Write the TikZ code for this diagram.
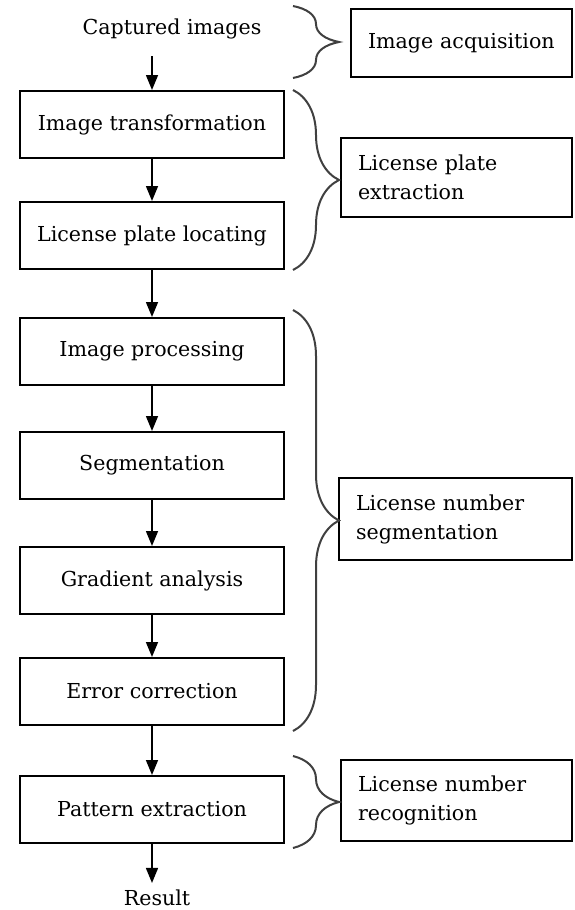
\documentclass[tikz,border=0pt]{standalone}
\usepackage{fontspec}
\setmainfont{DejaVu Serif}
\usetikzlibrary{arrows.meta,positioning,decorations.pathreplacing}

\begin{document}
\begin{tikzpicture}[
  x=0.5pt, y=-0.5pt,
  font=\fontsize{10.3pt}{14.5pt}\selectfont,
  box/.style={draw, line width=1pt, minimum width=132pt, minimum height=33.5pt, align=center, inner sep=2pt},
  side/.style={draw, line width=1pt, align=left, inner xsep=8.5pt, anchor=east},
  arr/.style={-{Triangle[width=6pt,length=7.5pt]}, line width=0.75pt},
  brc/.style={decorate, decoration={brace, amplitude=23pt}, line width=1pt, black!75}
]
\useasboundingbox (0,0) rectangle (574,910);
% flow column
\node (cap) at (172,29) {Captured images};
\node[box] (trans) at (152,124.5) {Image transformation};
\node[box, below=21pt of trans] (locate) {License plate locating};
\node[box, below=23.5pt of locate] (proc) {Image processing};
\node[box, below=22.5pt of proc] (seg) {Segmentation};
\node[box, below=23pt of seg] (grad) {Gradient analysis};
\node[box, below=21pt of grad] (err) {Error correction};
\node[box, below=24.5pt of err] (pattern) {Pattern extraction};
\node (res) at (157,898) {Result};
% stage labels
\node[side, text width=93.5pt, minimum height=34pt] (acq) at (573,43) {Image acquisition};
\node[side, text width=98.5pt, minimum height=39.5pt] (lpe) at (573,177.5) {License plate\\extraction};
\node[side, text width=99.5pt, minimum height=41pt] (lns) at (573,519) {License number\\segmentation};
\node[side, text width=98.5pt, minimum height=40.5pt] (lnr) at (573,800.5) {License number\\recognition};
\draw[arr, shorten <=5pt] (cap.south -| trans.north) -- (trans.north);
\draw[arr] (trans) -- (locate);
\draw[arr] (locate) -- (proc);
\draw[arr] (proc) -- (seg);
\draw[arr] (seg) -- (grad);
\draw[arr] (grad) -- (err);
\draw[arr] (err) -- (pattern);
\draw[arr] (pattern.south) -- (res.north -| pattern.south);
% braces
\coordinate (bx) at ([xshift=4pt]trans.north east);
\draw[brc] ([yshift=1pt]bx |- acq.north) -- (bx |- acq.south);
\draw[brc] (bx) -- (bx |- locate.south);
\draw[brc] ([yshift=3.5pt]bx |- proc.north) -- ([yshift=-2.5pt]bx |- err.south);
\draw[brc] ([yshift=1.5pt]bx |- lnr.north) -- ([yshift=-2pt]bx |- pattern.south);
\end{tikzpicture}
\end{document}
